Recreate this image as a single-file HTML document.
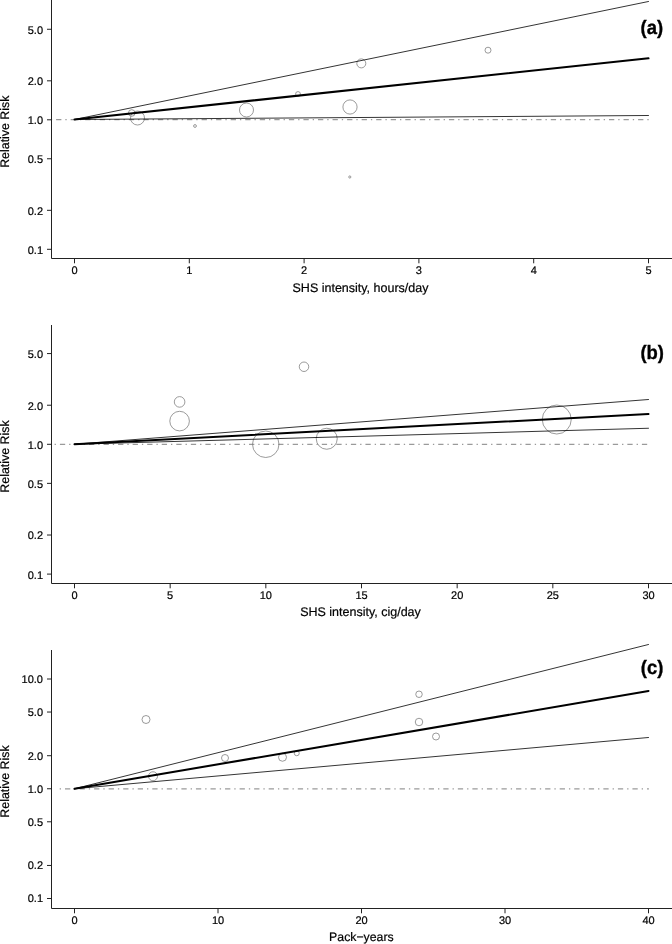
<!DOCTYPE html>
<html><head><meta charset="utf-8"><title>Figure</title>
<style>
html,body{margin:0;padding:0;background:#fff;}
svg{display:block;}
text{font-family:"Liberation Sans",Arial,Helvetica,sans-serif;fill:#000;text-rendering:geometricPrecision;stroke:#000;stroke-width:0.2px;}
.t{font-size:11px;}
.a{font-size:12.6px;}
.y{font-size:12.4px;}
.l{font-size:19.4px;text-rendering:geometricPrecision;font-weight:bold;fill:#000;stroke:#000;stroke-width:0.35px;}
</style></head><body>
<svg width="672" height="944" viewBox="0 0 672 944">
<rect width="672" height="944" fill="#fff"/>
<line x1="50.8" y1="119.5" x2="648.9" y2="119.5" stroke="#9a9a9a" stroke-width="1.25" stroke-dasharray="1.32 3.97 5.29 3.97"/>
<circle cx="131.75" cy="113" r="3.3" fill="none" stroke="#7a7a7a" stroke-width="0.75"/>
<circle cx="137.5" cy="118" r="7" fill="none" stroke="#7a7a7a" stroke-width="0.75"/>
<circle cx="195" cy="126" r="1.4" fill="none" stroke="#7a7a7a" stroke-width="0.75"/>
<circle cx="246.5" cy="110" r="7" fill="none" stroke="#7a7a7a" stroke-width="0.75"/>
<circle cx="298" cy="94" r="2.4" fill="none" stroke="#7a7a7a" stroke-width="0.75"/>
<circle cx="361.3" cy="63.4" r="4.5" fill="none" stroke="#7a7a7a" stroke-width="0.75"/>
<circle cx="350" cy="107" r="7.1" fill="none" stroke="#7a7a7a" stroke-width="0.75"/>
<circle cx="349.8" cy="177" r="1.1" fill="none" stroke="#7a7a7a" stroke-width="0.75"/>
<circle cx="488" cy="50.2" r="3" fill="none" stroke="#7a7a7a" stroke-width="0.75"/>
<line x1="74.5" y1="119.5" x2="648.5" y2="1.5" stroke="#000" stroke-width="0.8" stroke-linecap="round"/>
<line x1="74.5" y1="119.5" x2="648.5" y2="58.3" stroke="#000" stroke-width="2.05" stroke-linecap="round"/>
<line x1="74.5" y1="119.5" x2="648.5" y2="115.5" stroke="#000" stroke-width="0.8" stroke-linecap="round"/>
<path d="M51.5 0V258.5H672" fill="none" stroke="#222" stroke-width="1"/>
<line x1="47" y1="29.28" x2="51.5" y2="29.28" stroke="#222" stroke-width="1"/>
<text x="43" y="33.58" text-anchor="end" class="t">5.0</text>
<line x1="47" y1="80.82" x2="51.5" y2="80.82" stroke="#222" stroke-width="1"/>
<text x="43" y="85.12" text-anchor="end" class="t">2.0</text>
<line x1="47" y1="119.80" x2="51.5" y2="119.80" stroke="#222" stroke-width="1"/>
<text x="43" y="124.10" text-anchor="end" class="t">1.0</text>
<line x1="47" y1="158.78" x2="51.5" y2="158.78" stroke="#222" stroke-width="1"/>
<text x="43" y="163.08" text-anchor="end" class="t">0.5</text>
<line x1="47" y1="210.32" x2="51.5" y2="210.32" stroke="#222" stroke-width="1"/>
<text x="43" y="214.62" text-anchor="end" class="t">0.2</text>
<line x1="47" y1="249.30" x2="51.5" y2="249.30" stroke="#222" stroke-width="1"/>
<text x="43" y="253.60" text-anchor="end" class="t">0.1</text>
<line x1="74.50" y1="258.5" x2="74.50" y2="263.3" stroke="#222" stroke-width="1"/>
<text x="74.50" y="274.3" text-anchor="middle" class="t">0</text>
<line x1="189.30" y1="258.5" x2="189.30" y2="263.3" stroke="#222" stroke-width="1"/>
<text x="189.30" y="274.3" text-anchor="middle" class="t">1</text>
<line x1="304.10" y1="258.5" x2="304.10" y2="263.3" stroke="#222" stroke-width="1"/>
<text x="304.10" y="274.3" text-anchor="middle" class="t">2</text>
<line x1="418.90" y1="258.5" x2="418.90" y2="263.3" stroke="#222" stroke-width="1"/>
<text x="418.90" y="274.3" text-anchor="middle" class="t">3</text>
<line x1="533.70" y1="258.5" x2="533.70" y2="263.3" stroke="#222" stroke-width="1"/>
<text x="533.70" y="274.3" text-anchor="middle" class="t">4</text>
<line x1="648.50" y1="258.5" x2="648.50" y2="263.3" stroke="#222" stroke-width="1"/>
<text x="648.50" y="274.3" text-anchor="middle" class="t">5</text>
<text x="360.5" y="291.6" text-anchor="middle" class="a" style="font-size:12.5px">SHS intensity, hours/day</text>
<text transform="translate(8.7 131.7) rotate(-90)" text-anchor="middle" class="y">Relative Risk</text>
<text transform="translate(651.8 34.1) scale(0.95 1)" text-anchor="middle" class="l">(a)</text>
<line x1="54.6" y1="444.25" x2="648.9" y2="444.25" stroke="#9a9a9a" stroke-width="1.25" stroke-dasharray="1.32 3.97 5.29 3.97"/>
<circle cx="179.6" cy="401.9" r="5.3" fill="none" stroke="#7a7a7a" stroke-width="0.75"/>
<circle cx="179.6" cy="421.1" r="9.8" fill="none" stroke="#7a7a7a" stroke-width="0.75"/>
<circle cx="265.75" cy="444.25" r="13.25" fill="none" stroke="#7a7a7a" stroke-width="0.75"/>
<circle cx="304" cy="366.75" r="4.75" fill="none" stroke="#7a7a7a" stroke-width="0.75"/>
<circle cx="326.75" cy="438.75" r="10.5" fill="none" stroke="#7a7a7a" stroke-width="0.75"/>
<circle cx="556.75" cy="419.5" r="14.5" fill="none" stroke="#7a7a7a" stroke-width="0.75"/>
<line x1="74.5" y1="444.25" x2="648.5" y2="399.5" stroke="#000" stroke-width="0.8" stroke-linecap="round"/>
<line x1="74.5" y1="444.25" x2="648.5" y2="414" stroke="#000" stroke-width="2.05" stroke-linecap="round"/>
<line x1="74.5" y1="444.25" x2="648.5" y2="428.25" stroke="#000" stroke-width="0.8" stroke-linecap="round"/>
<path d="M51.5 325V583.5H672" fill="none" stroke="#222" stroke-width="1"/>
<line x1="47" y1="353.57" x2="51.5" y2="353.57" stroke="#222" stroke-width="1"/>
<text x="43" y="357.97" text-anchor="end" class="t">5.0</text>
<line x1="47" y1="405.23" x2="51.5" y2="405.23" stroke="#222" stroke-width="1"/>
<text x="43" y="409.63" text-anchor="end" class="t">2.0</text>
<line x1="47" y1="444.30" x2="51.5" y2="444.30" stroke="#222" stroke-width="1"/>
<text x="43" y="448.70" text-anchor="end" class="t">1.0</text>
<line x1="47" y1="483.37" x2="51.5" y2="483.37" stroke="#222" stroke-width="1"/>
<text x="43" y="487.77" text-anchor="end" class="t">0.5</text>
<line x1="47" y1="535.03" x2="51.5" y2="535.03" stroke="#222" stroke-width="1"/>
<text x="43" y="539.43" text-anchor="end" class="t">0.2</text>
<line x1="47" y1="574.10" x2="51.5" y2="574.10" stroke="#222" stroke-width="1"/>
<text x="43" y="578.50" text-anchor="end" class="t">0.1</text>
<line x1="74.50" y1="583.5" x2="74.50" y2="588.3" stroke="#222" stroke-width="1"/>
<text x="74.50" y="599.3" text-anchor="middle" class="t">0</text>
<line x1="170.17" y1="583.5" x2="170.17" y2="588.3" stroke="#222" stroke-width="1"/>
<text x="170.17" y="599.3" text-anchor="middle" class="t">5</text>
<line x1="265.83" y1="583.5" x2="265.83" y2="588.3" stroke="#222" stroke-width="1"/>
<text x="265.83" y="599.3" text-anchor="middle" class="t">10</text>
<line x1="361.50" y1="583.5" x2="361.50" y2="588.3" stroke="#222" stroke-width="1"/>
<text x="361.50" y="599.3" text-anchor="middle" class="t">15</text>
<line x1="457.17" y1="583.5" x2="457.17" y2="588.3" stroke="#222" stroke-width="1"/>
<text x="457.17" y="599.3" text-anchor="middle" class="t">20</text>
<line x1="552.83" y1="583.5" x2="552.83" y2="588.3" stroke="#222" stroke-width="1"/>
<text x="552.83" y="599.3" text-anchor="middle" class="t">25</text>
<line x1="648.50" y1="583.5" x2="648.50" y2="588.3" stroke="#222" stroke-width="1"/>
<text x="648.50" y="599.3" text-anchor="middle" class="t">30</text>
<text x="360.5" y="616.2" text-anchor="middle" class="a" style="font-size:12.5px">SHS intensity, cig/day</text>
<text transform="translate(8.7 456.5) rotate(-90)" text-anchor="middle" class="y">Relative Risk</text>
<text transform="translate(652.2 359.2) scale(0.95 1)" text-anchor="middle" class="l">(b)</text>
<line x1="59.7" y1="788.75" x2="648.9" y2="788.75" stroke="#9a9a9a" stroke-width="1.25" stroke-dasharray="1.32 3.97 5.29 3.97"/>
<circle cx="146" cy="719.5" r="4" fill="none" stroke="#7a7a7a" stroke-width="0.75"/>
<circle cx="153" cy="776.25" r="4.5" fill="none" stroke="#7a7a7a" stroke-width="0.75"/>
<circle cx="225" cy="758" r="3.5" fill="none" stroke="#7a7a7a" stroke-width="0.75"/>
<circle cx="282.5" cy="757.25" r="4" fill="none" stroke="#7a7a7a" stroke-width="0.75"/>
<circle cx="296.75" cy="753.25" r="2.5" fill="none" stroke="#7a7a7a" stroke-width="0.75"/>
<circle cx="419" cy="694.25" r="3.25" fill="none" stroke="#7a7a7a" stroke-width="0.75"/>
<circle cx="419" cy="722" r="3.75" fill="none" stroke="#7a7a7a" stroke-width="0.75"/>
<circle cx="436" cy="736.5" r="3.5" fill="none" stroke="#7a7a7a" stroke-width="0.75"/>
<line x1="74.5" y1="788.75" x2="648.5" y2="644.5" stroke="#000" stroke-width="0.8" stroke-linecap="round"/>
<line x1="74.5" y1="788.75" x2="648.5" y2="691" stroke="#000" stroke-width="2.05" stroke-linecap="round"/>
<line x1="74.5" y1="788.75" x2="648.5" y2="737.5" stroke="#000" stroke-width="0.8" stroke-linecap="round"/>
<path d="M51.5 650V908.5H672" fill="none" stroke="#222" stroke-width="1"/>
<line x1="47" y1="679.00" x2="51.5" y2="679.00" stroke="#222" stroke-width="1"/>
<text x="43" y="682.90" text-anchor="end" class="t">10.0</text>
<line x1="47" y1="712.04" x2="51.5" y2="712.04" stroke="#222" stroke-width="1"/>
<text x="43" y="715.94" text-anchor="end" class="t">5.0</text>
<line x1="47" y1="755.71" x2="51.5" y2="755.71" stroke="#222" stroke-width="1"/>
<text x="43" y="759.61" text-anchor="end" class="t">2.0</text>
<line x1="47" y1="788.75" x2="51.5" y2="788.75" stroke="#222" stroke-width="1"/>
<text x="43" y="792.65" text-anchor="end" class="t">1.0</text>
<line x1="47" y1="821.79" x2="51.5" y2="821.79" stroke="#222" stroke-width="1"/>
<text x="43" y="825.69" text-anchor="end" class="t">0.5</text>
<line x1="47" y1="865.46" x2="51.5" y2="865.46" stroke="#222" stroke-width="1"/>
<text x="43" y="869.36" text-anchor="end" class="t">0.2</text>
<line x1="47" y1="898.50" x2="51.5" y2="898.50" stroke="#222" stroke-width="1"/>
<text x="43" y="902.40" text-anchor="end" class="t">0.1</text>
<line x1="74.50" y1="908.5" x2="74.50" y2="913.3" stroke="#222" stroke-width="1"/>
<text x="74.50" y="924.3" text-anchor="middle" class="t">0</text>
<line x1="218.00" y1="908.5" x2="218.00" y2="913.3" stroke="#222" stroke-width="1"/>
<text x="218.00" y="924.3" text-anchor="middle" class="t">10</text>
<line x1="361.50" y1="908.5" x2="361.50" y2="913.3" stroke="#222" stroke-width="1"/>
<text x="361.50" y="924.3" text-anchor="middle" class="t">20</text>
<line x1="505.00" y1="908.5" x2="505.00" y2="913.3" stroke="#222" stroke-width="1"/>
<text x="505.00" y="924.3" text-anchor="middle" class="t">30</text>
<line x1="648.50" y1="908.5" x2="648.50" y2="913.3" stroke="#222" stroke-width="1"/>
<text x="648.50" y="924.3" text-anchor="middle" class="t">40</text>
<text x="361.4" y="940.8" text-anchor="middle" class="a" style="font-size:12.3px">Pack−years</text>
<text transform="translate(8.7 781.5) rotate(-90)" text-anchor="middle" class="y">Relative Risk</text>
<text transform="translate(652.1 674.3) scale(0.95 1)" text-anchor="middle" class="l">(c)</text>
</svg>
</body></html>
